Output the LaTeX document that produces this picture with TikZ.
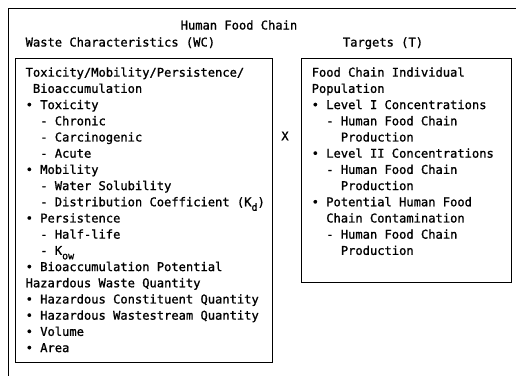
\documentclass[tikz,border=0pt]{standalone}
\usepackage{fontspec}
\newfontfamily\typefont[FakeBold=1.2]{DejaVu Sans Mono}
\usetikzlibrary{positioning}
\newcommand{\cols}[1]{\hspace*{#1\fontcharwd\font`\x}}
\newcommand{\lowsub}[1]{\raisebox{-4.5pt}{\fontsize{10}{10}\selectfont #1}}

\begin{document}
\begin{tikzpicture}[x=1pt, y=-1pt,
  txt/.style={font=\typefont\fontsize{12.1}{16.2}\selectfont, inner sep=0pt},
  lst/.style={txt, align=left},
  panel/.style={draw=black, line width=1pt, inner sep=0pt, anchor=north west}]
\useasboundingbox (0,0) rectangle (516,376);
% open frame round the whole chart
\draw[line width=1pt] (516,8) -- (8,8) -- (8,376);
\node[txt, anchor=base west] (title) at (180.5,29.5) {Human Food Chain};
\node[txt, anchor=base west] (wchead) at (25.5,46.5) {Waste Characteristics (WC)};
\node[txt, anchor=base] (thead) at (383,46.5) {Targets (T)};
\node[panel, minimum width=257pt, minimum height=304pt] (wc) at (15,58) {};
\node[panel, minimum width=210pt, minimum height=224pt] (t) at (301,58) {};
\node[txt] (times) at (285,136) {X};
\node[lst, below right=9.2pt and 10.5pt of wc.north west] (wclist) {%
Toxicity/Mobility/Persistence/\\
\cols{1}Bioaccumulation\\
• Toxicity\\
\cols{2}- Chronic\\
\cols{2}- Carcinogenic\\
\cols{2}- Acute\\
• Mobility\\
\cols{2}- Water Solubility\\
\cols{2}- Distribution Coefficient (K\lowsub{d})\\
• Persistence\\
\cols{2}- Half-life\\
\cols{2}- K\lowsub{ow}\\
• Bioaccumulation Potential\\
Hazardous Waste Quantity\\
• Hazardous Constituent Quantity\\
• Hazardous Wastestream Quantity\\
• Volume\\
• Area};
\node[lst, below right=9.2pt and 10.5pt of t.north west] (tlist) {%
Food Chain Individual\\
Population\\
• Level I Concentrations\\
\cols{2}- Human Food Chain\\
\cols{4}Production\\
• Level II Concentrations\\
\cols{2}- Human Food Chain\\
\cols{4}Production\\
• Potential Human Food\\
\cols{2}Chain Contamination\\
\cols{2}- Human Food Chain\\
\cols{4}Production};
\end{tikzpicture}
\end{document}
